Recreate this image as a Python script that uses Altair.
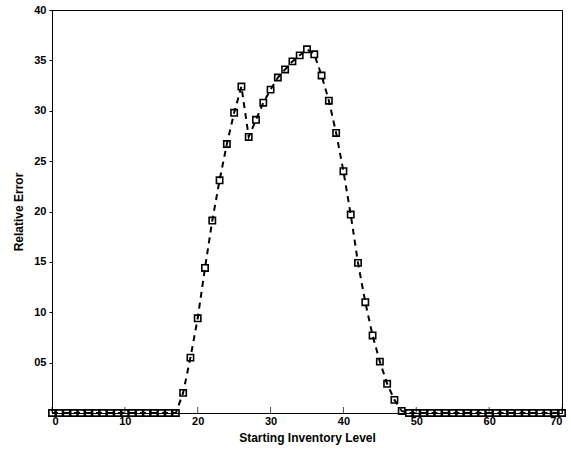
import altair as alt
import pandas as pd

# Starting inventory levels 0..70 and the relative error at each level
levels = list(range(0, 71))
errors = (
    [0.0] * 18
    + [0.020, 0.055, 0.094, 0.144, 0.191, 0.231, 0.267, 0.298, 0.324,
       0.274, 0.291, 0.308, 0.321, 0.333, 0.341, 0.349, 0.355, 0.361,
       0.356, 0.335, 0.310, 0.278, 0.240, 0.197, 0.149, 0.110, 0.077,
       0.051, 0.029, 0.013, 0.002]
    + [0.0] * 22
)
x_ticks = [0, 10, 20, 30, 40, 50, 60, 70]
y_ticks = [0.05, 0.10, 0.15, 0.20, 0.25, 0.30, 0.35, 0.40]

df = pd.DataFrame({"level": levels, "error": errors})
ticks_df = pd.DataFrame({"t": x_ticks})

W, H = 510, 403
FONT = "Liberation Sans"

x_scale = alt.Scale(domain=[0, 70], nice=False, zero=False)
y_scale = alt.Scale(domain=[0, 0.4], nice=False)

x_enc = alt.X(
    "level:Q", scale=x_scale,
    axis=alt.Axis(values=x_ticks, title="Starting Inventory Level", grid=False,
                  ticks=False, labelPadding=2, titlePadding=6, format="d"),
)
y_enc = alt.Y(
    "error:Q", scale=y_scale,
    axis=alt.Axis(values=y_ticks, title="Relative Error", grid=False,
                  tickSize=3, labelPadding=3, titlePadding=8,
                  labelExpr="format(round(datum.value*100), '02d')"),
)

line = alt.Chart(df).mark_line(
    color="black", strokeWidth=2, strokeDash=[6, 5]
).encode(x=x_enc, y=y_enc)

points = alt.Chart(df).mark_point(
    shape="square", size=40, filled=False, color="black", strokeWidth=1.6, opacity=1
).encode(x=alt.X("level:Q", scale=x_scale), y=alt.Y("error:Q", scale=y_scale))

inner_ticks = alt.Chart(ticks_df).mark_tick(
    color="black", thickness=1, size=6, orient="vertical"
).encode(x=alt.X("t:Q", scale=x_scale), y=alt.value(H - 3))

chart = (
    alt.layer(line, points, inner_ticks)
    .properties(
        width=W, height=H,
        autosize=alt.AutoSizeParams(type="none"),
        padding={"left": 52, "top": 10, "right": 9, "bottom": 44},
        background="white",
    )
    .configure_view(stroke="black", strokeWidth=1)
    .configure_axis(
        domainColor="black", tickColor="black", labelColor="black", titleColor="black",
        labelFont=FONT, titleFont=FONT, labelFontSize=11, titleFontSize=12,
        labelFontWeight="bold", titleFontWeight="bold",
    )
)

chart.save("out.html", embed_options={"renderer": "svg", "actions": False})
